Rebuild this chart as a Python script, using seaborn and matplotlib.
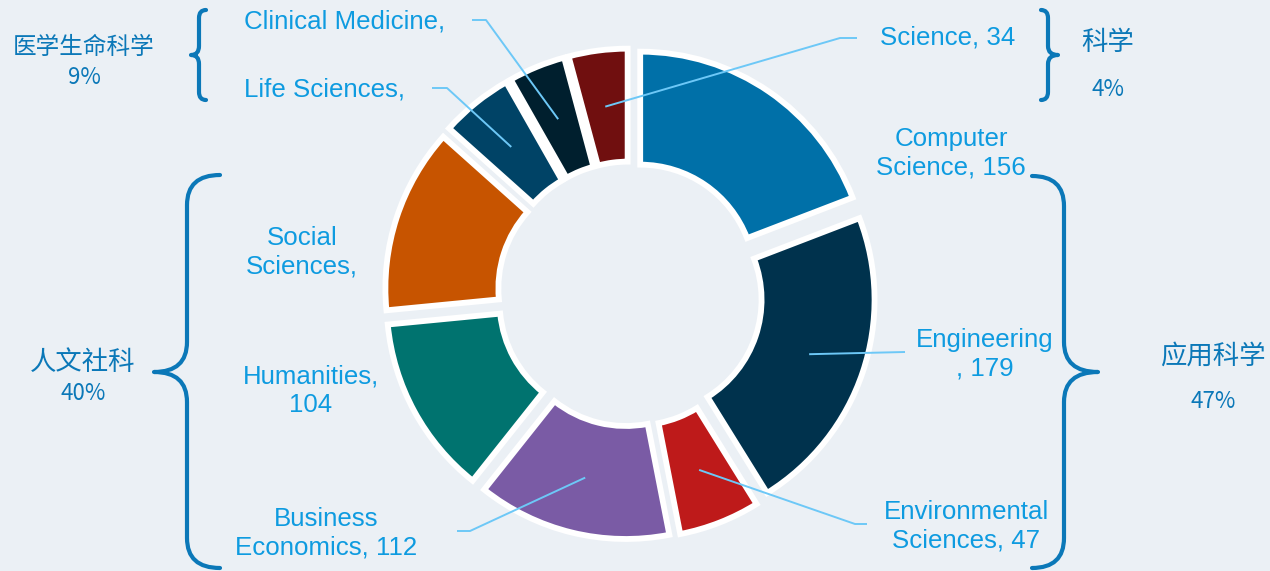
import numpy as np
import seaborn as sns
import matplotlib.pyplot as plt
from matplotlib.path import Path
from matplotlib.patches import PathPatch


# data, clockwise from 12 o'clock
fields = ["Computer Science", "Engineering", "Environmental Sciences", "Business Economics",
          "Humanities", "Social Sciences", "Life Sciences", "Clinical Medicine", "Science"]
counts = [156, 179, 47, 112, 104, 107, 42, 33, 34]
field_labels = ["Computer\nScience, 156", "Engineering\n, 179", "Environmental\nSciences, 47",
                "Business\nEconomics, 112", "Humanities,\n104", "Social\nSciences,",
                "Life Sciences,", "Clinical Medicine,", "Science, 34"]
field_colors = ["#0070A8", "#00324D", "#BE1A1A", "#7A5BA5", "#00736F",
                "#C75400", "#004366", "#001F2E", "#700F0F"]

group_names = ["医学生命科学", "科学", "人文社科", "应用科学"]
group_pcts = ["9%", "4%", "40%", "47%"]

BG = "#EBF0F5"
TXT = "#0E9BE0"
DARK = "#0B78B8"
LEADER = "#6DC8F7"

sns.set_theme(style="white")
plt.rcParams["font.family"] = ["Liberation Sans", "Noto Sans CJK SC", "DejaVu Sans"]

fig = plt.figure(figsize=(12.7, 5.71), dpi=100)
fig.patch.set_facecolor(BG)
ax = fig.add_axes([0, 0, 1, 1])
ax.set_facecolor(BG)

# pixel coordinates, y pointing down
cx, cy, R, W = 630, 294, 227.5, 113
wedges, _ = ax.pie(counts, colors=sns.color_palette(field_colors), startangle=-90, counterclock=True,
                   radius=R, center=(cx, cy), explode=[18] * len(counts),
                   wedgeprops=dict(width=W, edgecolor="white", linewidth=4.2), frame=False)
ax.set_xlim(0, 1270)
ax.set_ylim(571, 0)
ax.set_aspect("equal")
ax.set_axis_off()

# label block centers and leader elbows/ends (None = no leader)
label_pos = [(951, 153), (985, 354), (966, 526), (326, 533), (311, 391),
             (302, 252), (325, 89), (345, 22), (948, 38)]
leaders = [None, [(905, 352)], [(855, 524), (867, 524)], [(470, 531), (457, 531)], None,
           None, [(447, 88), (432, 88)], [(486, 20), (472, 20)], [(840, 38), (857, 38)]]

for w, text, pos, lead in zip(wedges, field_labels, label_pos, leaders):
    ax.text(pos[0], pos[1], text, ha="center", va="center", fontsize=18.6, color=TXT,
            linespacing=1.24)
    if lead is None:
        continue
    mid = np.deg2rad((w.theta1 + w.theta2) / 2)
    rr = w.r - w.width / 2
    ax_x = w.center[0] + rr * np.cos(mid)
    ax_y = w.center[1] + rr * np.sin(mid)
    xs = [ax_x] + [p[0] for p in lead]
    ys = [ax_y] + [p[1] for p in lead]
    ax.plot(xs, ys, color=LEADER, lw=1.4, solid_capstyle="butt", zorder=5)


def brace(xv, y0, y1, ym, tip, curl, cyy, ty, lw=3):
    verts = [(xv + curl, y0), (xv, y0), (xv, y0 + cyy), (xv, ym - ty),
             (xv, ym), (xv + tip, ym), (xv, ym), (xv, ym + ty),
             (xv, y1 - cyy), (xv, y1), (xv + curl, y1)]
    codes = [Path.MOVETO, Path.CURVE3, Path.CURVE3, Path.LINETO,
             Path.CURVE3, Path.CURVE3, Path.CURVE3, Path.CURVE3,
             Path.LINETO, Path.CURVE3, Path.CURVE3]
    ax.add_patch(PathPatch(Path(verts, codes), fill=False, edgecolor=DARK, lw=lw,
                           capstyle="round", joinstyle="round"))


brace(199, 10, 100, 55, -8, 7, 8, 9)
brace(1048, 10, 100, 55, 10, -7, 8, 9)
brace(187, 175, 568, 372, -33, 33, 30, 30)
brace(1064, 176, 568, 372, 34, -32, 30, 30)

group_pos = [((84, 47), (84, 78)), ((1108, 43), (1108, 89)),
             ((83, 362), (83, 393)), ((1213, 356), (1213, 402))]
group_size = [17, 19, 19, 19]
for name, pct, (p1, p2), fs in zip(group_names, group_pcts, group_pos, group_size):
    ax.text(p1[0], p1[1], name, ha="center", va="center", fontsize=fs, color=DARK,
            family=["Noto Sans CJK SC", "DejaVu Sans"])
    ax.text(p2[0], p2[1], pct, ha="center", va="center", fontsize=16, color=DARK,
            family=["Noto Sans CJK SC", "DejaVu Sans"])

fig.savefig("out.png", dpi=100, facecolor=BG)
